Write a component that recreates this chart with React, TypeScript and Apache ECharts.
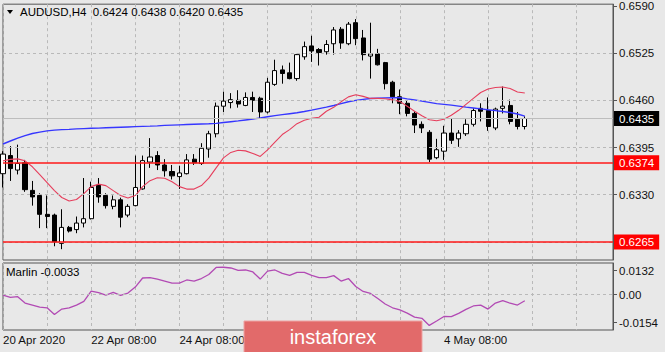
import React, { useEffect, useRef } from 'react';
import * as echarts from 'echarts';

const FONT = '"Liberation Sans", Arial, sans-serif';

// H4 candles (20 Apr 2020 08:00 … 6 May 2020 04:00)
const opens = [
  0.6359, 0.6384, 0.6364, 0.6374, 0.6336, 0.6329, 0.6303, 0.6302, 0.6263, 0.6285,
  0.6282, 0.6291, 0.6297, 0.6343, 0.6329, 0.6314, 0.6323, 0.6302, 0.6315, 0.6338,
  0.6375, 0.6384, 0.6371, 0.6362, 0.6355, 0.6359, 0.6379, 0.6373, 0.6393, 0.6414,
  0.6452, 0.6457, 0.6460, 0.6453, 0.6464, 0.6463, 0.6444, 0.6482, 0.6502, 0.6498,
  0.6490, 0.6520, 0.6535, 0.6530, 0.6527, 0.6538, 0.6558, 0.6538, 0.6567, 0.6546,
  0.6521, 0.6524, 0.6512, 0.6485, 0.6465, 0.6456, 0.6442, 0.6427, 0.6416, 0.6381,
  0.6390, 0.6415, 0.6407, 0.6414, 0.6427, 0.6449, 0.6446, 0.6422, 0.6449, 0.6453,
  0.6434, 0.6424,
];
const closes = [
  0.6386, 0.6366, 0.6373, 0.6337, 0.6327, 0.6303, 0.6300, 0.6265, 0.6285, 0.6280,
  0.6291, 0.6297, 0.6340, 0.6327, 0.6315, 0.6323, 0.6299, 0.6314, 0.6340, 0.6377,
  0.6382, 0.6371, 0.6363, 0.6356, 0.6360, 0.6378, 0.6374, 0.6394, 0.6414, 0.6452,
  0.6459, 0.6461, 0.6455, 0.6464, 0.6460, 0.6444, 0.6485, 0.6501, 0.6497, 0.6490,
  0.6523, 0.6534, 0.6528, 0.6526, 0.6537, 0.6557, 0.6539, 0.6565, 0.6545, 0.6523,
  0.6524, 0.6509, 0.6483, 0.6465, 0.6456, 0.6442, 0.6426, 0.6422, 0.6379, 0.6392,
  0.6415, 0.6405, 0.6415, 0.6427, 0.6446, 0.6445, 0.6424, 0.6448, 0.6452, 0.6431,
  0.6424, 0.6435,
];
const highs = [
  0.6390, 0.6397, 0.6399, 0.6378, 0.6349, 0.6332, 0.6329, 0.6304, 0.6310, 0.6287,
  0.6300, 0.6353, 0.6348, 0.6353, 0.6332, 0.6329, 0.6326, 0.6317, 0.6384, 0.6384,
  0.6408, 0.6390, 0.6379, 0.6371, 0.6370, 0.6386, 0.6386, 0.6401, 0.6418, 0.6457,
  0.6472, 0.6470, 0.6474, 0.6471, 0.6472, 0.6465, 0.6491, 0.6516, 0.6508, 0.6512,
  0.6524, 0.6541, 0.6549, 0.6532, 0.6543, 0.6561, 0.6561, 0.6568, 0.6572, 0.6557,
  0.6567, 0.6531, 0.6513, 0.6487, 0.6475, 0.6460, 0.6445, 0.6431, 0.6419, 0.6407,
  0.6425, 0.6435, 0.6419, 0.6434, 0.6449, 0.6456, 0.6464, 0.6450, 0.6479, 0.6461,
  0.6444, 0.6438,
];
const lows = [
  0.6340, 0.6349, 0.6358, 0.6334, 0.6315, 0.6284, 0.6284, 0.6259, 0.6255, 0.6278,
  0.6277, 0.6285, 0.6296, 0.6319, 0.6311, 0.6310, 0.6285, 0.6299, 0.6314, 0.6337,
  0.6367, 0.6364, 0.6355, 0.6351, 0.6338, 0.6358, 0.6371, 0.6371, 0.6381, 0.6409,
  0.6444, 0.6449, 0.6450, 0.6452, 0.6444, 0.6435, 0.6442, 0.6480, 0.6483, 0.6489,
  0.6487, 0.6516, 0.6513, 0.6508, 0.6523, 0.6523, 0.6531, 0.6536, 0.6536, 0.6515,
  0.6490, 0.6508, 0.6475, 0.6456, 0.6441, 0.6438, 0.6415, 0.6415, 0.6375, 0.6379,
  0.6378, 0.6400, 0.6396, 0.6411, 0.6424, 0.6431, 0.6418, 0.6419, 0.6442, 0.6427,
  0.6420, 0.6420,
];

// Moving averages
const maSlow = [
  0.63999, 0.6404, 0.64081, 0.64115, 0.64143, 0.64163, 0.6418, 0.6419, 0.64197, 0.642,
  0.64207, 0.64211, 0.64215, 0.64218, 0.64222, 0.64226, 0.6423, 0.64234, 0.64238, 0.64242,
  0.64245, 0.64249, 0.64255, 0.64259, 0.64263, 0.64267, 0.64271, 0.64275, 0.64278, 0.64283,
  0.64295, 0.64306, 0.64317, 0.6433, 0.64343, 0.64358, 0.64375, 0.6439, 0.64403, 0.64416,
  0.64429, 0.64447, 0.64466, 0.64487, 0.64507, 0.64529, 0.64555, 0.64581, 0.646, 0.64614,
  0.64625, 0.6463, 0.64634, 0.64638, 0.64637, 0.6462, 0.64607, 0.64589, 0.64573, 0.64555,
  0.64545, 0.64534, 0.64521, 0.64507, 0.64495, 0.64483, 0.6447, 0.64459, 0.64447, 0.64433,
  0.64412, 0.64382,
];
const maFast = [
  0.63767, 0.63787, 0.63794, 0.63767, 0.63685, 0.63576, 0.63467, 0.63357, 0.63262, 0.63214,
  0.63234, 0.63316, 0.63412, 0.63446, 0.63426, 0.63357, 0.63289, 0.63255, 0.63289, 0.63412,
  0.63494, 0.63535, 0.63528, 0.6348, 0.63412, 0.63378, 0.63378, 0.63426, 0.63528, 0.63671,
  0.63808, 0.63883, 0.63913, 0.63904, 0.63869, 0.63828, 0.63917, 0.64026, 0.64129, 0.64197,
  0.64279, 0.64327, 0.64354, 0.64368, 0.6445, 0.64504, 0.6458, 0.64648, 0.64678, 0.64655,
  0.64627, 0.64627, 0.64623, 0.64607, 0.64586, 0.64518, 0.6445, 0.64388, 0.64334, 0.6432,
  0.64341, 0.64395, 0.64463, 0.64545, 0.64627, 0.64709, 0.64757, 0.64778, 0.64784, 0.64764,
  0.64716, 0.64702,
];

// Marlin oscillator
const marlin = [
  -0.0002, -0.0015, -0.0011, -0.0046, -0.0057, -0.0068, -0.0072, -0.0109, -0.0079, -0.0073,
  -0.0057, -0.0037, 0.0020, 0.0012, -0.0002, 0.0013, -0.0004, 0.0009, 0.0042, 0.0092,
  0.0094, 0.0086, 0.0075, 0.0064, 0.0064, 0.0081, 0.0075, 0.0089, 0.0111, 0.0150,
  0.0151, 0.0147, 0.0134, 0.0136, 0.0125, 0.0086, 0.0130, 0.0136, 0.0117, 0.0106,
  0.0123, 0.0123, 0.0106, 0.0094, 0.0094, 0.0105, 0.0075, 0.0089, 0.0045, 0.0018,
  0.0007, -0.0021, -0.0051, -0.0072, -0.0084, -0.0101, -0.0123, -0.0130, -0.0169, -0.0145,
  -0.0120, -0.0121, -0.0103, -0.0081, -0.0062, -0.0057, -0.0079, -0.0046, -0.0033, -0.0047,
  -0.0057, -0.0033,
];

const priceTicks = [0.659, 0.6525, 0.646, 0.6395, 0.633];
const gridPrices = [0.6525, 0.646, 0.6395, 0.633, 0.6265];
const levelPrices = [0.6374, 0.6265];
const currentPrice = 0.6435;
const marlinTicks = [0.0132, 0, -0.0154];

const timeLabels = ['20 Apr 2020', '22 Apr 08:00', '24 Apr 08:00', '4 May 08:00'];
const timeLabelIndex = [0, 12, 24, 60];

const TOTAL_SLOTS = 84; // bars + empty right shift
const PRICE_MIN = 0.62401;
const PRICE_MAX = 0.65925;
const OSC_MIN = -0.01942;
const OSC_MAX = 0.01744;

export default function App() {
  const ref = useRef<HTMLDivElement>(null);

  useEffect(() => {
    if (!ref.current) return;
    const chart = echarts.init(ref.current, null, { renderer: 'svg' });
    const categories = Array.from({ length: TOTAL_SLOTS }, (_, i) => String(i));
    const candles = opens.map((o, i) => [o, closes[i], lows[i], highs[i]]);
    const last = opens.length - 1;
    const title = `AUDUSD,H4  ${opens[last].toFixed(4)} ${highs[last].toFixed(4)} ${lows[last].toFixed(4)} ${closes[last].toFixed(4)}`;
    const marlinTitle = `Marlin ${marlin[marlin.length - 1].toFixed(4)}`;

    const gridDash = { color: '#b9b9b9', type: [3, 3] as any, width: 1 };
    const priceBox = (bg: string) => ({
      show: true,
      position: 'end',
      distance: 1,
      formatter: (p: any) => Number(p.value).toFixed(4),
      color: '#ffffff',
      backgroundColor: bg,
      padding: [2, 5, 1, 5],
      fontSize: 11.5,
      fontFamily: FONT,
    });

    const splitV = { show: true, interval: 5, lineStyle: gridDash };

    const levelSeries = levelPrices.map((p, k) => ({
      name: 'level' + k, type: 'line', xAxisIndex: 0, yAxisIndex: 0, data: [], z: 5, silent: true,
      markLine: {
        symbol: ['none', 'none'], silent: true, animation: false, precision: 5,
        lineStyle: { color: '#ff1a1a', type: 'solid', width: 1.5, opacity: 1 },
        emphasis: { disabled: true },
        label: priceBox('#ff0000'),
        data: [{ yAxis: p }],
      },
    }));

    const option: any = {
      animation: false,
      backgroundColor: '#e8e8e8',
      textStyle: { fontFamily: FONT },
      grid: [
        { left: 3, top: 2, width: 610, height: 258, show: true, borderColor: '#555', borderWidth: 1, backgroundColor: 'transparent' },
        { left: 3, top: 263, width: 610, height: 67, show: true, borderColor: '#555', borderWidth: 1, backgroundColor: 'transparent' },
      ],
      xAxis: [
        {
          type: 'category', gridIndex: 0, data: categories, boundaryGap: false,
          axisLine: { show: false }, axisTick: { show: false }, axisLabel: { show: false },
          splitLine: splitV,
        },
        {
          type: 'category', gridIndex: 1, data: categories, boundaryGap: false,
          axisLine: { show: false }, axisTick: { show: false },
          axisLabel: {
            show: true,
            interval: (idx: number) => timeLabelIndex.indexOf(idx) >= 0,
            formatter: (_v: string, idx: number) => {
              const k = timeLabelIndex.indexOf(idx);
              return k >= 0 ? timeLabels[k] : '';
            },
            align: 'left', margin: 4, color: '#111', fontSize: 11.5, fontFamily: FONT,
          },
          splitLine: splitV,
        },
      ],
      yAxis: [
        {
          type: 'value', gridIndex: 0, position: 'right', min: PRICE_MIN, max: PRICE_MAX,
          splitLine: { show: false },
          axisLine: { show: true, lineStyle: { color: '#555' } },
          axisTick: { show: true, customValues: priceTicks, length: 4, inside: false, lineStyle: { color: '#555' } },
          axisLabel: { show: true, customValues: priceTicks, formatter: (v: number) => v.toFixed(4), margin: 6, color: '#111', fontSize: 11.5, fontFamily: FONT },
        },
        {
          type: 'value', gridIndex: 1, position: 'right', min: OSC_MIN, max: OSC_MAX,
          splitLine: { show: false },
          axisLine: { show: true, lineStyle: { color: '#555' } },
          axisTick: { show: true, customValues: marlinTicks, length: 4, lineStyle: { color: '#555' } },
          axisLabel: { show: true, customValues: marlinTicks, formatter: (v: number) => (v === 0 ? '0.00' : v.toFixed(4)), margin: 6, color: '#111', fontSize: 11.5, fontFamily: FONT },
        },
      ],
      series: [
        {
          name: 'grid', type: 'line', xAxisIndex: 0, yAxisIndex: 0, data: [], z: 1, silent: true,
          markLine: {
            symbol: ['none', 'none'], silent: true, animation: false, precision: 5,
            lineStyle: gridDash,
            label: { show: false },
            data: gridPrices.map((p) => ({ yAxis: p })),
          },
        },
        {
          name: 'AUDUSD', type: 'candlestick', xAxisIndex: 0, yAxisIndex: 0, data: candles, barWidth: 4.6, z: 3,
          itemStyle: { color: '#ffffff', color0: '#000000', borderColor: '#000000', borderColor0: '#000000', borderWidth: 1 },
        },
        {
          name: 'last', type: 'line', xAxisIndex: 0, yAxisIndex: 0, data: [], z: 3, silent: true,
          markLine: {
            symbol: ['none', 'none'], silent: true, animation: false, precision: 5,
            lineStyle: { color: '#bdbdbd', type: 'solid', width: 1 },
            label: priceBox('#000000'),
            data: [{ yAxis: currentPrice }],
          },
        },
        {
          name: 'MA slow', type: 'line', xAxisIndex: 0, yAxisIndex: 0, data: maSlow, showSymbol: false, z: 4,
          lineStyle: { color: '#3636ff', width: 1.4 },
        },
        {
          name: 'MA fast', type: 'line', xAxisIndex: 0, yAxisIndex: 0, data: maFast, showSymbol: false, z: 4,
          lineStyle: { color: '#e63e5c', width: 1.1 },
        },
        ...levelSeries,
        {
          name: 'Marlin', type: 'line', xAxisIndex: 1, yAxisIndex: 1, data: marlin, showSymbol: false, z: 4,
          lineStyle: { color: '#b24ab4', width: 1.3 },
          markLine: {
            symbol: ['none', 'none'], silent: true, animation: false, precision: 5,
            lineStyle: gridDash,
            label: { show: false },
            data: [{ yAxis: 0 }],
          },
        },
      ],
      graphic: [
        { type: 'polygon', shape: { points: [[7, 10], [13, 10], [10, 14]] }, style: { fill: '#000' }, z: 10 },
        { type: 'text', x: 20, y: 12, style: { text: title, font: `11.5px ${FONT}`, fill: '#000', verticalAlign: 'middle' }, z: 10 },
        { type: 'text', x: 6, y: 272, style: { text: marlinTitle, font: `11.5px ${FONT}`, fill: '#000', verticalAlign: 'middle' }, z: 10 },
        {
          type: 'group', z: 20,
          children: [
            { type: 'rect', shape: { x: 244, y: 321, width: 178, height: 40 }, style: { fill: '#e26a6a', stroke: '#eea3a3', lineWidth: 1 }, z: 20 },
            { type: 'text', x: 333, y: 337, style: { text: 'instaforex', font: `20px ${FONT}`, fill: '#ffffff', align: 'center', verticalAlign: 'middle' }, z: 21 },
          ],
        },
      ],
    };

    chart.setOption(option);
    return () => chart.dispose();
  }, []);

  return (
    <div
      ref={ref}
      style={{ position: 'fixed', left: 0, top: 0, width: 665, height: 352, background: '#e8e8e8' }}
    />
  );
}
